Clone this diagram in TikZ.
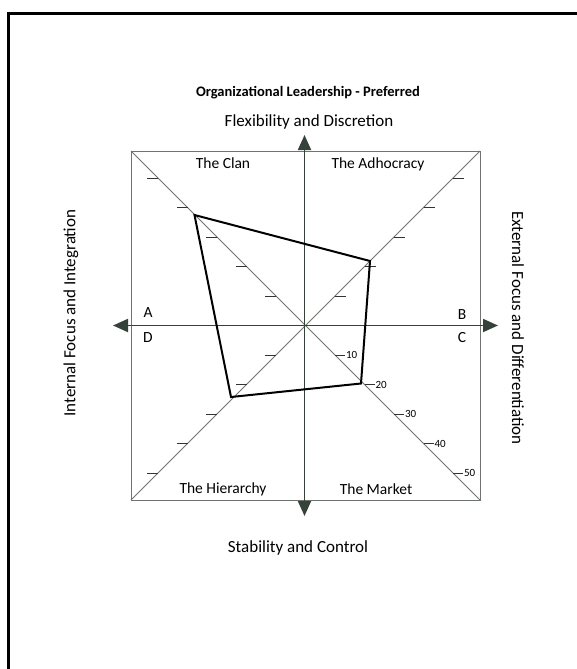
\documentclass[tikz,border=0pt]{standalone}
\usepackage{fontspec}
\setmainfont{Carlito}
\usetikzlibrary{arrows.meta,calc}
\definecolor{axiscol}{RGB}{52,66,58}
\definecolor{gridcol}{RGB}{112,116,112}
\tikzset{
  axisline/.style={draw=axiscol,line width=1.8pt,{Triangle[length=15pt,width=13pt]}-{Triangle[length=15pt,width=13pt]}},
  gridline/.style={draw=gridcol,line width=1pt},
  tickline/.style={draw=black!80,line width=1pt},
  profile/.style={draw=black,line width=2pt,line join=miter},
  quadlabel/.style={font=\fontsize{15.5}{17}\selectfont,inner sep=1pt},
  axislabel/.style={font=\fontsize{17}{19}\selectfont,inner sep=1pt},
  letterlabel/.style={font=\fontsize{15.5}{17}\selectfont,inner sep=1pt},
  ticklabel/.style={font=\fontsize{11}{12}\selectfont,inner sep=0.5pt,anchor=west},
}
\begin{document}
\begin{tikzpicture}[x=1pt,y=-1pt]
\useasboundingbox (0,0) rectangle (577,669);
\fill[white] (0,0) rectangle (577,669);
% outer frame (left and top edges visible)
\draw[line width=2.6pt] (8.5,670) -- (8.5,13.5) -- (578,13.5);

% geometry
\coordinate (O) at (305.5,325.5);
\coordinate (TL) at (131,151);
\coordinate (TR) at (480,151);
\coordinate (BR) at (480,500);
\coordinate (BL) at (131,500);
\coordinate (Nt) at (304.5,135);
\coordinate (St) at (304.5,516);
\coordinate (Wt) at (113,325.5);
\coordinate (Et) at (498,325.5);

% square and diagonals
\draw[gridline] (TL) -- (TR) -- (BR) -- (BL) -- cycle;
\draw[gridline] (TL) -- (BR);
\draw[gridline] (TR) -- (BL);

% ticks
\foreach \k in {1,...,5}{
  \coordinate (ul\k) at ($(O)+(-29.5*\k,-29.5*\k)$);
  \coordinate (ur\k) at ($(O)+(29.5*\k,-29.5*\k)$);
  \coordinate (ll\k) at ($(O)+(-29.5*\k,29.5*\k)$);
  \coordinate (lr\k) at ($(O)+(29.5*\k,29.5*\k)$);
  \draw[tickline] (ul\k) -- ++(-11,0);
  \draw[tickline] (ll\k) -- ++(-11,0);
  \draw[tickline] (ur\k) -- ++(11,0);
  \draw[tickline] (lr\k) -- ++(10,0) node[ticklabel] (lab\k) {\k0};
}

% axes
\draw[axisline] (St) -- (Nt);
\draw[axisline] (Wt) -- (Et);

% profile polygon
\coordinate (pClan) at (194.5,215);
\coordinate (pAdh) at (370,261);
\coordinate (pMkt) at (361,383.5);
\coordinate (pHier) at (231,397);
\draw[profile] (pClan) -- (pAdh) -- (pMkt) -- (pHier) -- cycle;

% texts
\node[font=\bfseries\fontsize{14.5}{16}\selectfont] (title) at (308,93) {Organizational Leadership - Preferred};
\node[axislabel] (top) at (309,122) {Flexibility and Discretion};
\node[axislabel] (bottom) at (298,548) {Stability and Control};
\node[axislabel,rotate=90] (left) at (71,313) {Internal Focus and Integration};
\node[axislabel,rotate=-90] (right) at (518,328) {External Focus and Differentiation};
\node[quadlabel] (clan) at (223,163) {The Clan};
\node[quadlabel] (adh) at (378,164) {The Adhocracy};
\node[quadlabel] (hier) at (223,489) {The Hierarchy};
\node[quadlabel] (mkt) at (376,489) {The Market};
\node[letterlabel] (A) at (148,313) {A};
\node[letterlabel] (D) at (148,338) {D};
\node[letterlabel] (B) at (462,315) {B};
\node[letterlabel] (C) at (462,338) {C};
\end{tikzpicture}
\end{document}
